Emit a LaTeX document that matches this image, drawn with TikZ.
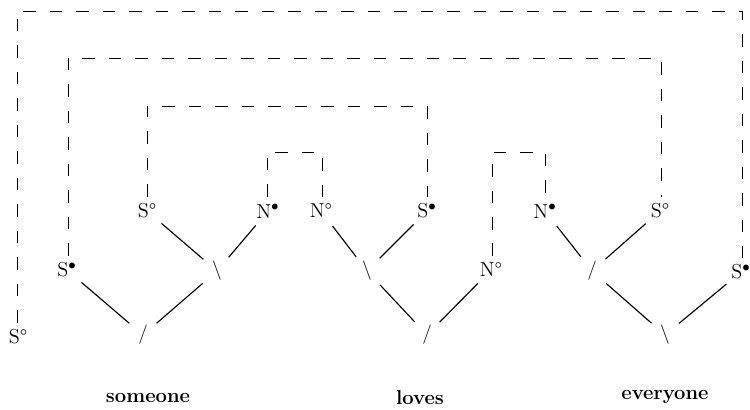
\documentclass[tikz,border=0pt]{standalone}
\begin{document}
\begin{tikzpicture}[x=0.02cm,y=-0.02cm,
  lab/.style={inner sep=1pt,font=\fontsize{11.5}{13}\selectfont},
  sl/.style={inner sep=0pt,font=\fontsize{11}{13}\selectfont},
  word/.style={inner sep=1pt,font=\fontsize{11.5}{13}\selectfont\bfseries},
  tr/.style={line width=0.65pt,shorten <=0.38cm,shorten >=0.36cm},
  dsh/.style={line width=0.55pt,dash pattern=on 0.25cm off 0.28cm,
    shorten <=0.1cm,shorten >=0.1cm}]
\useasboundingbox (0,0) rectangle (750,409);
% labels
\node[lab] (sA) at (18,337) {S°};
\node[lab] (sB) at (67,270) {S$^\bullet$};
\node[lab] (sC) at (147,211) {S°};
\node[lab] (nA) at (268,211) {N$^\bullet$};
\node[lab] (nB) at (321,211) {N°};
\node[lab] (sD) at (427,211) {S$^\bullet$};
\node[lab] (nC) at (545,211) {N$^\bullet$};
\node[lab] (sE) at (660,211) {S°};
\node[lab] (nD) at (491,270) {N°};
\node[lab] (sF) at (741,272) {S$^\bullet$};
% slash nodes
\node[sl] (b1) at (217,271) {\textbackslash};
\node[sl] (a1) at (143,335) {/};
\node[sl] (b2) at (367,271) {\textbackslash};
\node[sl] (a2) at (427,335) {/};
\node[sl] (a3) at (592,271) {/};
\node[sl] (b3) at (665,335) {\textbackslash};
% words
\node[word] (w1) at (148,398) {someone};
\node[word] (w2) at (420,398) {loves};
\node[word] (w3) at (665,397) {everyone};
% tree lines
\draw[tr] (sC.center) -- (b1.center);
\draw[tr] (nA.center) -- (b1.center);
\draw[tr] (sB.center) -- (a1.center);
\draw[tr] (b1.center) -- (a1.center);
\draw[tr] (nB.center) -- (b2.center);
\draw[tr] (sD.center) -- (b2.center);
\draw[tr] (b2.center) -- (a2.center);
\draw[tr] (nD.center) -- (a2.center);
\draw[tr] (nC.center) -- (a3.center);
\draw[tr] (sE.center) -- (a3.center);
\draw[tr] (a3.center) -- (b3.center);
\draw[tr] (sF.center) -- (b3.center);
% dashed links
\coordinate (o1) at (17,11);   \coordinate (o2) at (742,11);
\coordinate (p1) at (68,58);   \coordinate (p2) at (661,58);
\coordinate (q1) at (147,106); \coordinate (q2) at (427,106);
\coordinate (r1) at (267,152); \coordinate (r2) at (322,152);
\coordinate (t1) at (492,152); \coordinate (t2) at (545,152);
\draw[dsh] (sA.north -| o1) -- (o1) -- (o2) -- (sF.north -| o2);
\draw[dsh] (sB.north -| p1) -- (p1) -- (p2) -- (sE.north -| p2);
\draw[dsh] (sC.north -| q1) -- (q1) -- (q2) -- (sD.north -| q2);
\draw[dsh] (nA.north -| r1) -- (r1) -- (r2) -- (nB.north -| r2);
\draw[dsh] (nD.north -| t1) -- (t1) -- (t2) -- (nC.north -| t2);
\end{tikzpicture}
\end{document}
